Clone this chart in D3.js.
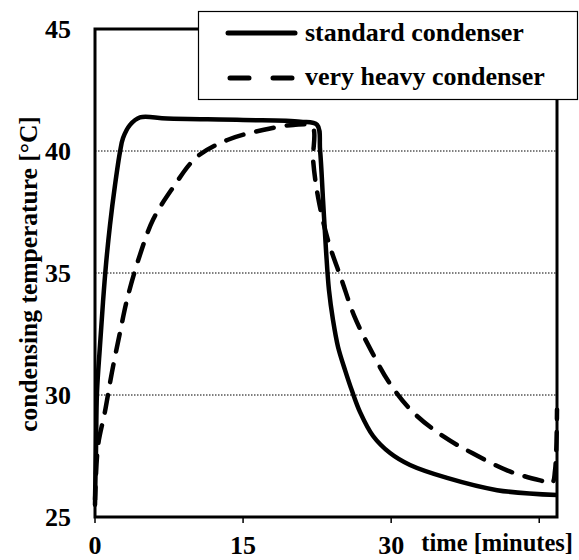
<!DOCTYPE html>
<html><head><meta charset="utf-8">
<script src="https://cdn.jsdelivr.net/npm/d3@7"></script>
<style>body{margin:0;background:#fff}svg{display:block}</style>
</head><body>
<script>
const seriesNames = ["standard condenser", "very heavy condenser"];
const standardT = [0,0.1,0.2,0.51,0.81,1.11,1.52,2.03,2.53,2.84,3.55,4.56,7.3,15,20.8,22.5,22.8,23.1,23.4,23.7,24.11,24.62,25.33,26.04,26.85,28.17,29.89,31.91,35.66,40.73,46.8];
const standardV = [25.7,27.7,30.1,32.05,33.81,35.33,36.97,38.61,39.96,40.53,41.07,41.38,41.33,41.27,41.2,41.07,40.04,37.99,35.94,34.3,33.07,31.97,31.02,30.16,29.3,28.32,27.62,27.13,26.6,26.1,25.9];
const heavyT = [0,0.3,1.0,1.7,2.5,3.3,4.6,5.9,7.9,10.3,13.4,17.0,20.1,22.0,22.1,22.6,23.6,25.0,26.3,28.0,29.9,32.2,35.3,38.3,41.8,45.1,46.3,46.6,46.8];
const heavyV = [25.5,27.9,29.3,30.9,32.5,34.0,35.8,37.2,38.5,39.75,40.45,40.86,41.07,41.0,39.6,38.1,36.35,34.7,33.2,31.8,30.45,29.3,28.3,27.6,26.9,26.5,26.4,26.9,29.4];
const xTicks = [0,15,30,45];
const xTickLabels = ["0","15","30",""];
const yTicks = [25,30,35,40,45];
const gridValues = [30,35,40];
const xTitle = "time [minutes]";
const yTitle = "condensing temperature [°C]";

const W=579,H=560;
const svg=d3.select("body").append("svg").attr("width",W).attr("height",H);
const font="'Liberation Serif','Times New Roman',serif";
const x=d3.scaleLinear().domain([0,46.8]).range([95,557]);
const y=d3.scaleLinear().domain([25,45]).range([517,29]);

// gridlines
svg.append("g").selectAll("line").data(gridValues).join("line")
  .attr("x1",x(0)).attr("x2",x(46.8)).attr("y1",d=>y(d)).attr("y2",d=>y(d))
  .attr("stroke","#000").attr("stroke-width",1).attr("stroke-dasharray","1.5,1.5");

// x ticks
svg.append("g").selectAll("line").data(xTicks).join("line")
  .attr("x1",d=>x(d)).attr("x2",d=>x(d)).attr("y1",y(25)).attr("y2",y(25)+6)
  .attr("stroke","#000").attr("stroke-width",1.5);
svg.append("g").selectAll("text").data(xTicks).join("text")
  .attr("x",d=>x(d)).attr("y",554).attr("text-anchor","middle")
  .attr("font-family",font).attr("font-weight","bold").attr("font-size",26)
  .text((d,i)=>xTickLabels[i]);
svg.append("g").selectAll("text").data(yTicks).join("text")
  .attr("x",71).attr("y",d=>y(d)+9).attr("text-anchor","end")
  .attr("font-family",font).attr("font-weight","bold").attr("font-size",26)
  .text(d=>d);

// frame
svg.append("rect").attr("x",x(0)).attr("y",y(45)).attr("width",x(46.8)-x(0)).attr("height",y(25)-y(45))
  .attr("fill","none").attr("stroke","#000").attr("stroke-width",3);

const line=d3.line().x(d=>x(d[0])).y(d=>y(d[1])).curve(d3.curveCatmullRom.alpha(0.5));
const sData=standardT.map((t,i)=>[t,standardV[i]]);
const hData=heavyT.map((t,i)=>[t,heavyV[i]]);
svg.append("path").datum(hData).attr("d",line).attr("fill","none").attr("stroke","#000")
  .attr("stroke-width",4.5).attr("stroke-dasharray","18,13").attr("stroke-linecap","round");
svg.append("path").datum(sData).attr("d",line).attr("fill","none").attr("stroke","#000")
  .attr("stroke-width",4.5).attr("stroke-linejoin","round");

// legend
const lg=svg.append("g");
lg.append("rect").attr("x",198.5).attr("y",11.5).attr("width",379).attr("height",88)
  .attr("fill","#fff").attr("stroke","#000").attr("stroke-width",1.2);
const legY=[33,78];
lg.append("line").attr("x1",228).attr("x2",295).attr("y1",legY[0]).attr("y2",legY[0])
  .attr("stroke","#000").attr("stroke-width",5).attr("stroke-linecap","round");
lg.append("line").attr("x1",230).attr("x2",295).attr("y1",legY[1]).attr("y2",legY[1])
  .attr("stroke","#000").attr("stroke-width",5).attr("stroke-linecap","round").attr("stroke-dasharray","19,24");
lg.selectAll("text").data(seriesNames).join("text")
  .attr("x",305).attr("y",(d,i)=>[41,85][i]).attr("font-family",font).attr("font-weight","bold")
  .attr("font-size",26).text(d=>d);

// axis titles
svg.append("text").attr("x",573).attr("y",551).attr("text-anchor","end")
  .attr("font-family",font).attr("font-weight","bold").attr("font-size",24.5).text(xTitle);
svg.append("text").attr("transform","translate(37,274) rotate(-90)").attr("text-anchor","middle")
  .attr("font-family",font).attr("font-weight","bold").attr("font-size",25.5).text(yTitle);
</script>
</body></html>
